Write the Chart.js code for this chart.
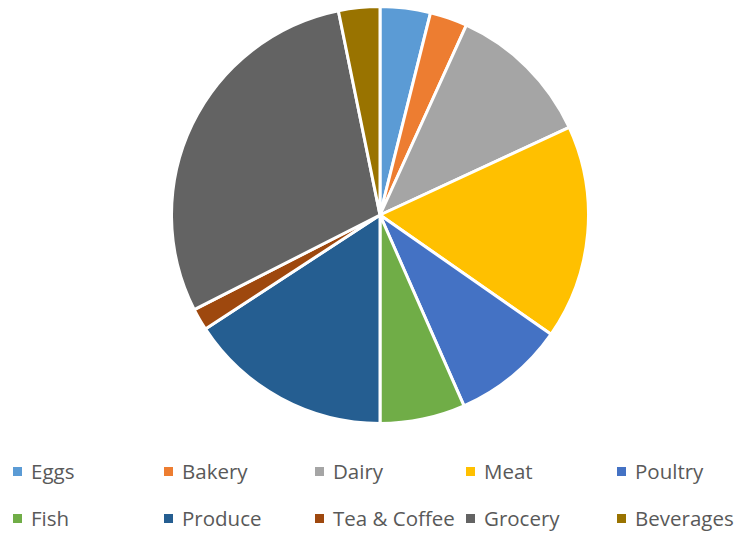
<!DOCTYPE html>
<html>
<head>
<meta charset="utf-8">
<script src="https://cdn.jsdelivr.net/npm/chart.js@4/dist/chart.umd.min.js"></script>
<style>
  html, body { margin: 0; padding: 0; background: #fff; }
  body { width: 737px; height: 534px; position: relative; overflow: hidden; }
  #pieWrap { position: absolute; left: 170px; top: 5px; width: 420px; height: 420px; }
  #legend { position: absolute; left: 13px; top: 459px; width: 737px; }
  .item {
    position: absolute; display: flex; align-items: center;
    font-family: "Open Sans", "Liberation Sans", sans-serif; font-size: 20.5px; color: #595959;
    white-space: nowrap; line-height: 24px;
  }
  .box { width: 9px; height: 9px; margin-right: 9px; }
</style>
</head>
<body>
<div id="pieWrap"><canvas id="pieChart"></canvas></div>
<div id="legend"></div>
<script>
// Share of sales per department (percent)
const categories = ['Eggs', 'Bakery', 'Dairy', 'Meat', 'Poultry', 'Fish', 'Produce', 'Tea & Coffee', 'Grocery', 'Beverages'];
const shares = [3.9, 2.9, 11.3, 16.6, 8.7, 6.6, 15.8, 1.7, 29.3, 3.2];
const colors = ['#5B9BD5', '#ED7D31', '#A5A5A5', '#FFC000', '#4472C4', '#70AD47', '#255E91', '#9E480E', '#636363', '#997300'];

const ctx = document.getElementById('pieChart').getContext('2d');
const pieChart = new Chart(ctx, {
    type: 'pie',
    data: {
        labels: categories,
        datasets: [{
            data: shares,
            backgroundColor: colors,
            borderColor: '#ffffff',
            borderWidth: 3
        }]
    },
    options: {
        responsive: true,
        maintainAspectRatio: false,
        animation: false,
        layout: { padding: 0 },
        plugins: {
            legend: { display: false },
            tooltip: { enabled: false }
        }
    }
});

// Legend laid out as a 5 x 2 grid under the pie
const legendEl = document.getElementById('legend');
const legendItems = pieChart.options.plugins.legend.labels.generateLabels(pieChart);
legendItems.forEach((item, i) => {
    const div = document.createElement('div');
    div.className = 'item';
    div.style.left = (i % 5) * 151 + 'px';
    div.style.top = Math.floor(i / 5) * 47 + 'px';
    const box = document.createElement('span');
    box.className = 'box';
    box.style.background = item.fillStyle;
    div.appendChild(box);
    div.appendChild(document.createTextNode(item.text));
    legendEl.appendChild(div);
});
</script>
</body>
</html>
